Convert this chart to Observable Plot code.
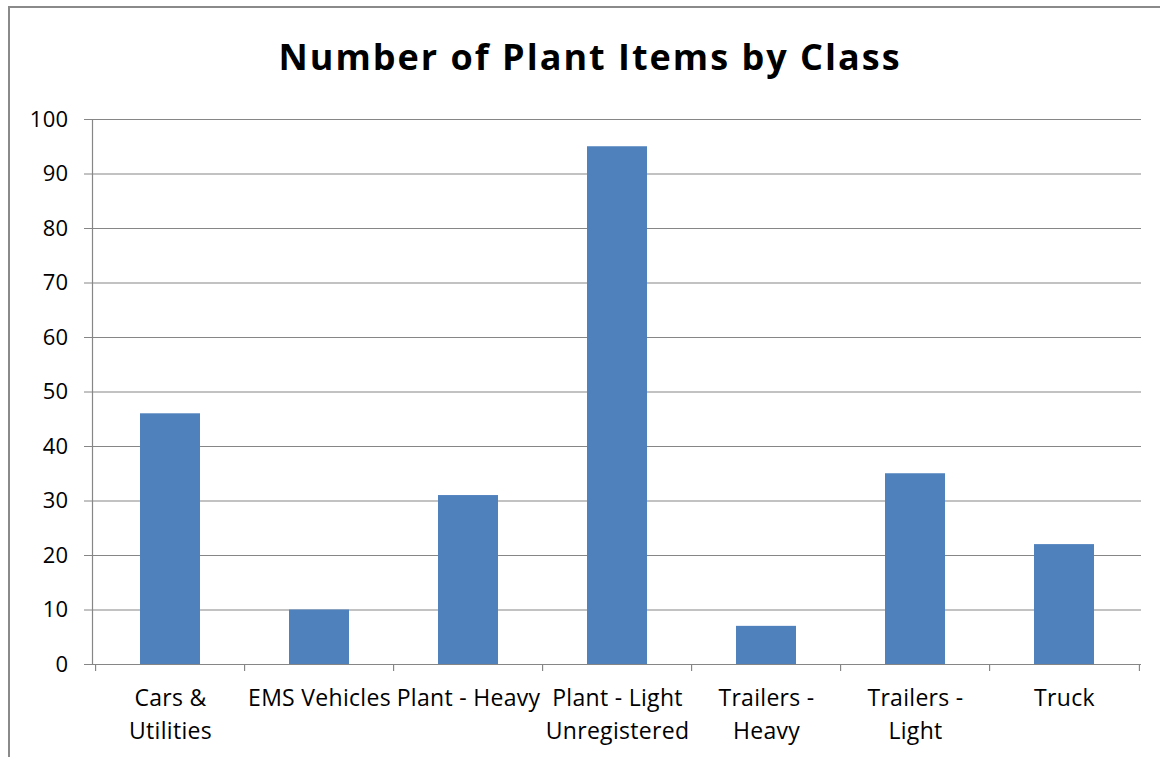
<!DOCTYPE html>
<html>
<head>
<meta charset="utf-8">
<script src="https://cdn.jsdelivr.net/npm/d3@7"></script>
<script src="https://cdn.jsdelivr.net/npm/@observablehq/plot@0.6"></script>
<style>
  html, body { margin: 0; padding: 0; background: #fff; overflow: hidden; }
  #wrap { position: relative; width: 1160px; height: 757px; overflow: hidden; background: #fff; }
  #border { position: absolute; left: 8px; top: 6px; width: 1200px; height: 800px; border: 2px solid #8a8a8a; box-sizing: border-box; }
  #title { position: absolute; left: 0; top: 37px; width: 1180px; text-align: center;
           font-family: "Open Sans", "Liberation Sans", sans-serif; font-weight: bold; font-size: 36px; line-height: 40px;
           letter-spacing: 2px; color: #000; }
  #chart { position: absolute; left: 0; top: 100px; }
  #chart svg text { letter-spacing: 0.3px; }
</style>
</head>
<body>
<div id="wrap">
  <div id="border"></div>
  <div id="title">Number of Plant Items by Class</div>
  <div id="chart"></div>
</div>
<script>
const categories = ["Cars &\nUtilities", "EMS Vehicles", "Plant - Heavy", "Plant - Light\nUnregistered", "Trailers -\nHeavy", "Trailers -\nLight", "Truck"];
const counts = [46, 10, 31, 95, 7, 35, 22];
const yTicks = [0, 10, 20, 30, 40, 50, 60, 70, 80, 90, 100];

const data = categories.map((c, i) => ({category: c, count: counts[i]}));

const W = 1160, H = 657, mL = 92, mR = 19, mT = 19, mB = 93;
const plotH = H - mT - mB;
const step = (W - mL - mR) / categories.length;
const grey = "#868686";
const font = "'Open Sans', 'Liberation Sans', sans-serif";

const chart = Plot.plot({
  width: W, height: H,
  marginLeft: mL, marginRight: mR, marginTop: mT, marginBottom: mB,
  x: {domain: categories, paddingInner: 0.6, paddingOuter: 0.3, axis: null},
  y: {domain: [0, 100], axis: null},
  style: {fontFamily: font, fontSize: "22px", color: "#000", background: "transparent"},
  marks: [
    Plot.ruleY(yTicks, {stroke: grey, strokeWidth: 1.2}),
    Plot.axisY({ticks: yTicks, tickSize: 8, tickPadding: 16, stroke: grey, fill: "#000", fontSize: 22, label: null, tickFormat: d => String(d)}),
    Plot.frame({anchor: "left", stroke: grey, strokeWidth: 1.2}),
    Plot.ruleX(categories, {x: d => d, dx: -step / 2, insetTop: plotH, insetBottom: -7, stroke: grey, strokeWidth: 1.2}),
    Plot.ruleX(categories.slice(-1), {x: d => d, dx: step / 2, insetTop: plotH, insetBottom: -7, stroke: grey, strokeWidth: 1.2}),
    Plot.barY(data, {x: "category", y: "count", fill: "#4F81BD"}),
    Plot.text(categories, {x: d => d, frameAnchor: "bottom", lineAnchor: "top", dy: 19, lineHeight: 1.4, fontSize: 23, fill: "#000"})
  ]
});
document.getElementById("chart").appendChild(chart);
</script>
</body>
</html>
